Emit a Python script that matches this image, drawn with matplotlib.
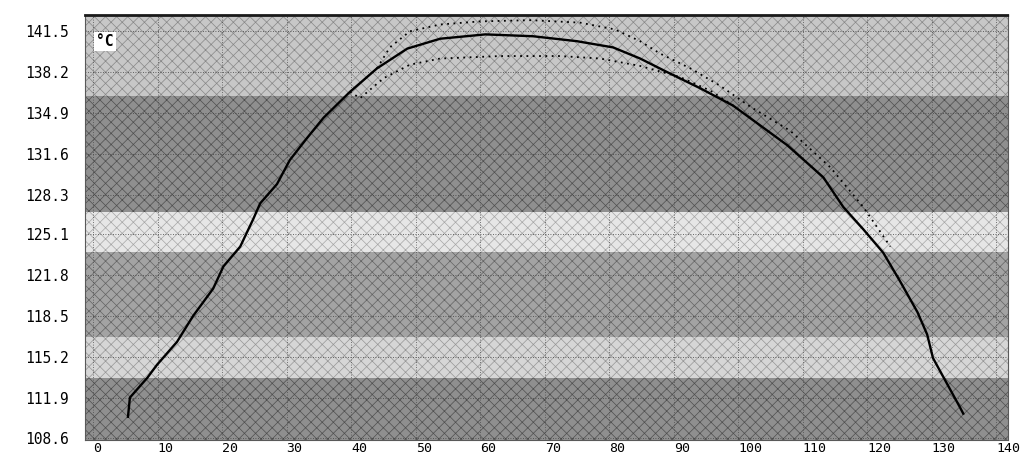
import numpy as np
import matplotlib
matplotlib.use("Agg")
import matplotlib.pyplot as plt

# main temperature trace (time, degC)
t_main = [5.4, 5.7, 8.4, 9.9, 13.0, 15.5, 18.6, 20.2, 22.8, 24.8, 25.9, 28.5,
          30.5, 33.2, 35.7, 39.8, 44.0, 48.7, 53.8, 60.8, 68.2, 75.0, 80.6,
          84.8, 89.0, 94.1, 99.2, 103.4, 107.6, 113.2, 116.3, 119.4, 122.5,
          125.1, 127.8, 129.3, 130.2, 132.4, 134.4, 134.9]
temp_main = [110.35, 111.9, 113.5, 114.55, 116.4, 118.5, 120.7, 122.5, 124.1,
             126.3, 127.6, 129.15, 131.1, 132.9, 134.5, 136.6, 138.5, 140.1,
             140.9, 141.25, 141.1, 140.7, 140.2, 139.3, 138.2, 136.9, 135.5,
             133.9, 132.3, 129.7, 127.3, 125.5, 123.6, 121.3, 118.8, 117.0,
             115.1, 113.0, 111.1, 110.6]

# upper limit trace (dotted)
t_upper = [44.0, 46.0, 49.1, 53.8, 60.0, 67.8, 75.5, 80.9, 84.8, 87.9, 92.6,
           97.2, 101.9, 108.1, 114.3, 119.4, 123.6]
temp_upper = [138.5, 140.2, 141.5, 142.05, 142.3, 142.4, 142.2, 141.65, 140.7,
              139.7, 138.5, 137.1, 135.4, 133.45, 130.5, 127.3, 124.1]

# lower limit trace (dotted)
t_lower = [39.8, 41.4, 45.0, 49.1, 53.8, 63.1, 72.4, 78.6, 84.8, 91.0, 95.7,
           99.5]
temp_lower = [136.6, 136.1, 137.7, 138.8, 139.3, 139.5, 139.5, 139.3, 138.7,
              137.8, 136.7, 135.4]

x_ticks = [0, 10, 20, 30, 40, 50, 60, 70, 80, 90, 100, 110, 120, 130, 140]
y_ticks = [108.6, 111.9, 115.2, 118.5, 121.8, 125.1, 128.3, 131.6, 134.9,
           138.2, 141.5]

# background colour bands (bottom, top, gray level)
band_edges = [108.0, 113.5, 116.8, 123.7, 126.9, 136.3, 143.5]
band_gray = [0.56, 0.84, 0.64, 0.90, 0.56, 0.78]

plt.rcParams['hatch.linewidth'] = 0.5

fig = plt.figure(figsize=(10.29, 4.61), dpi=100)
ax = fig.add_axes([0.083, 0.045, 0.897, 0.922])

for lo, hi, g in zip(band_edges[:-1], band_edges[1:], band_gray):
    ax.axhspan(lo, hi, facecolor=str(g), edgecolor=str(g - 0.25),
               hatch='xxx', linewidth=0, zorder=0)

for v in y_ticks:
    ax.axhline(v, color='0.25', lw=0.6, ls=(0, (1, 2)), zorder=1)
for v in x_ticks:
    ax.axvline(v, color='0.3', lw=0.6, ls=(0, (1, 2)), zorder=1)

ax.plot(t_upper, temp_upper, color='black', lw=1.3, ls=(0, (1, 2.5)), zorder=3)
ax.plot(t_lower, temp_lower, color='black', lw=1.3, ls=(0, (1, 2.5)), zorder=3)
ax.plot(t_main, temp_main, color='black', lw=1.7, zorder=4)

ax.set_xlim(-1.2, 141.9)
ax.set_ylim(108.45, 142.8)

ax.set_xticks(x_ticks)
ax.set_xticklabels([str(v) for v in x_ticks], ha='left')
ax.set_yticks(y_ticks)
ax.set_yticklabels([f'{v:.1f}' for v in y_ticks])
ax.tick_params(length=0, labelsize=10.5)
ax.tick_params(axis='x', pad=1, labelsize=9.5)
ax.tick_params(axis='y', pad=12)
for lab in ax.get_xticklabels() + ax.get_yticklabels():
    lab.set_family('DejaVu Sans Mono')

for s in ax.spines.values():
    s.set_color('0.35')
    s.set_linewidth(0.8)
ax.spines['top'].set_color('0.1')
ax.spines['top'].set_linewidth(2)
ax.spines['top'].set_linestyle((0, (2, 1)))

ax.text(0.012, 0.955, '°C', transform=ax.transAxes, fontsize=10.5,
        family='DejaVu Sans Mono', fontweight='bold', va='top',
        bbox=dict(facecolor='white', edgecolor='none', pad=1.5), zorder=5)

fig.savefig('out.png', dpi=100)
